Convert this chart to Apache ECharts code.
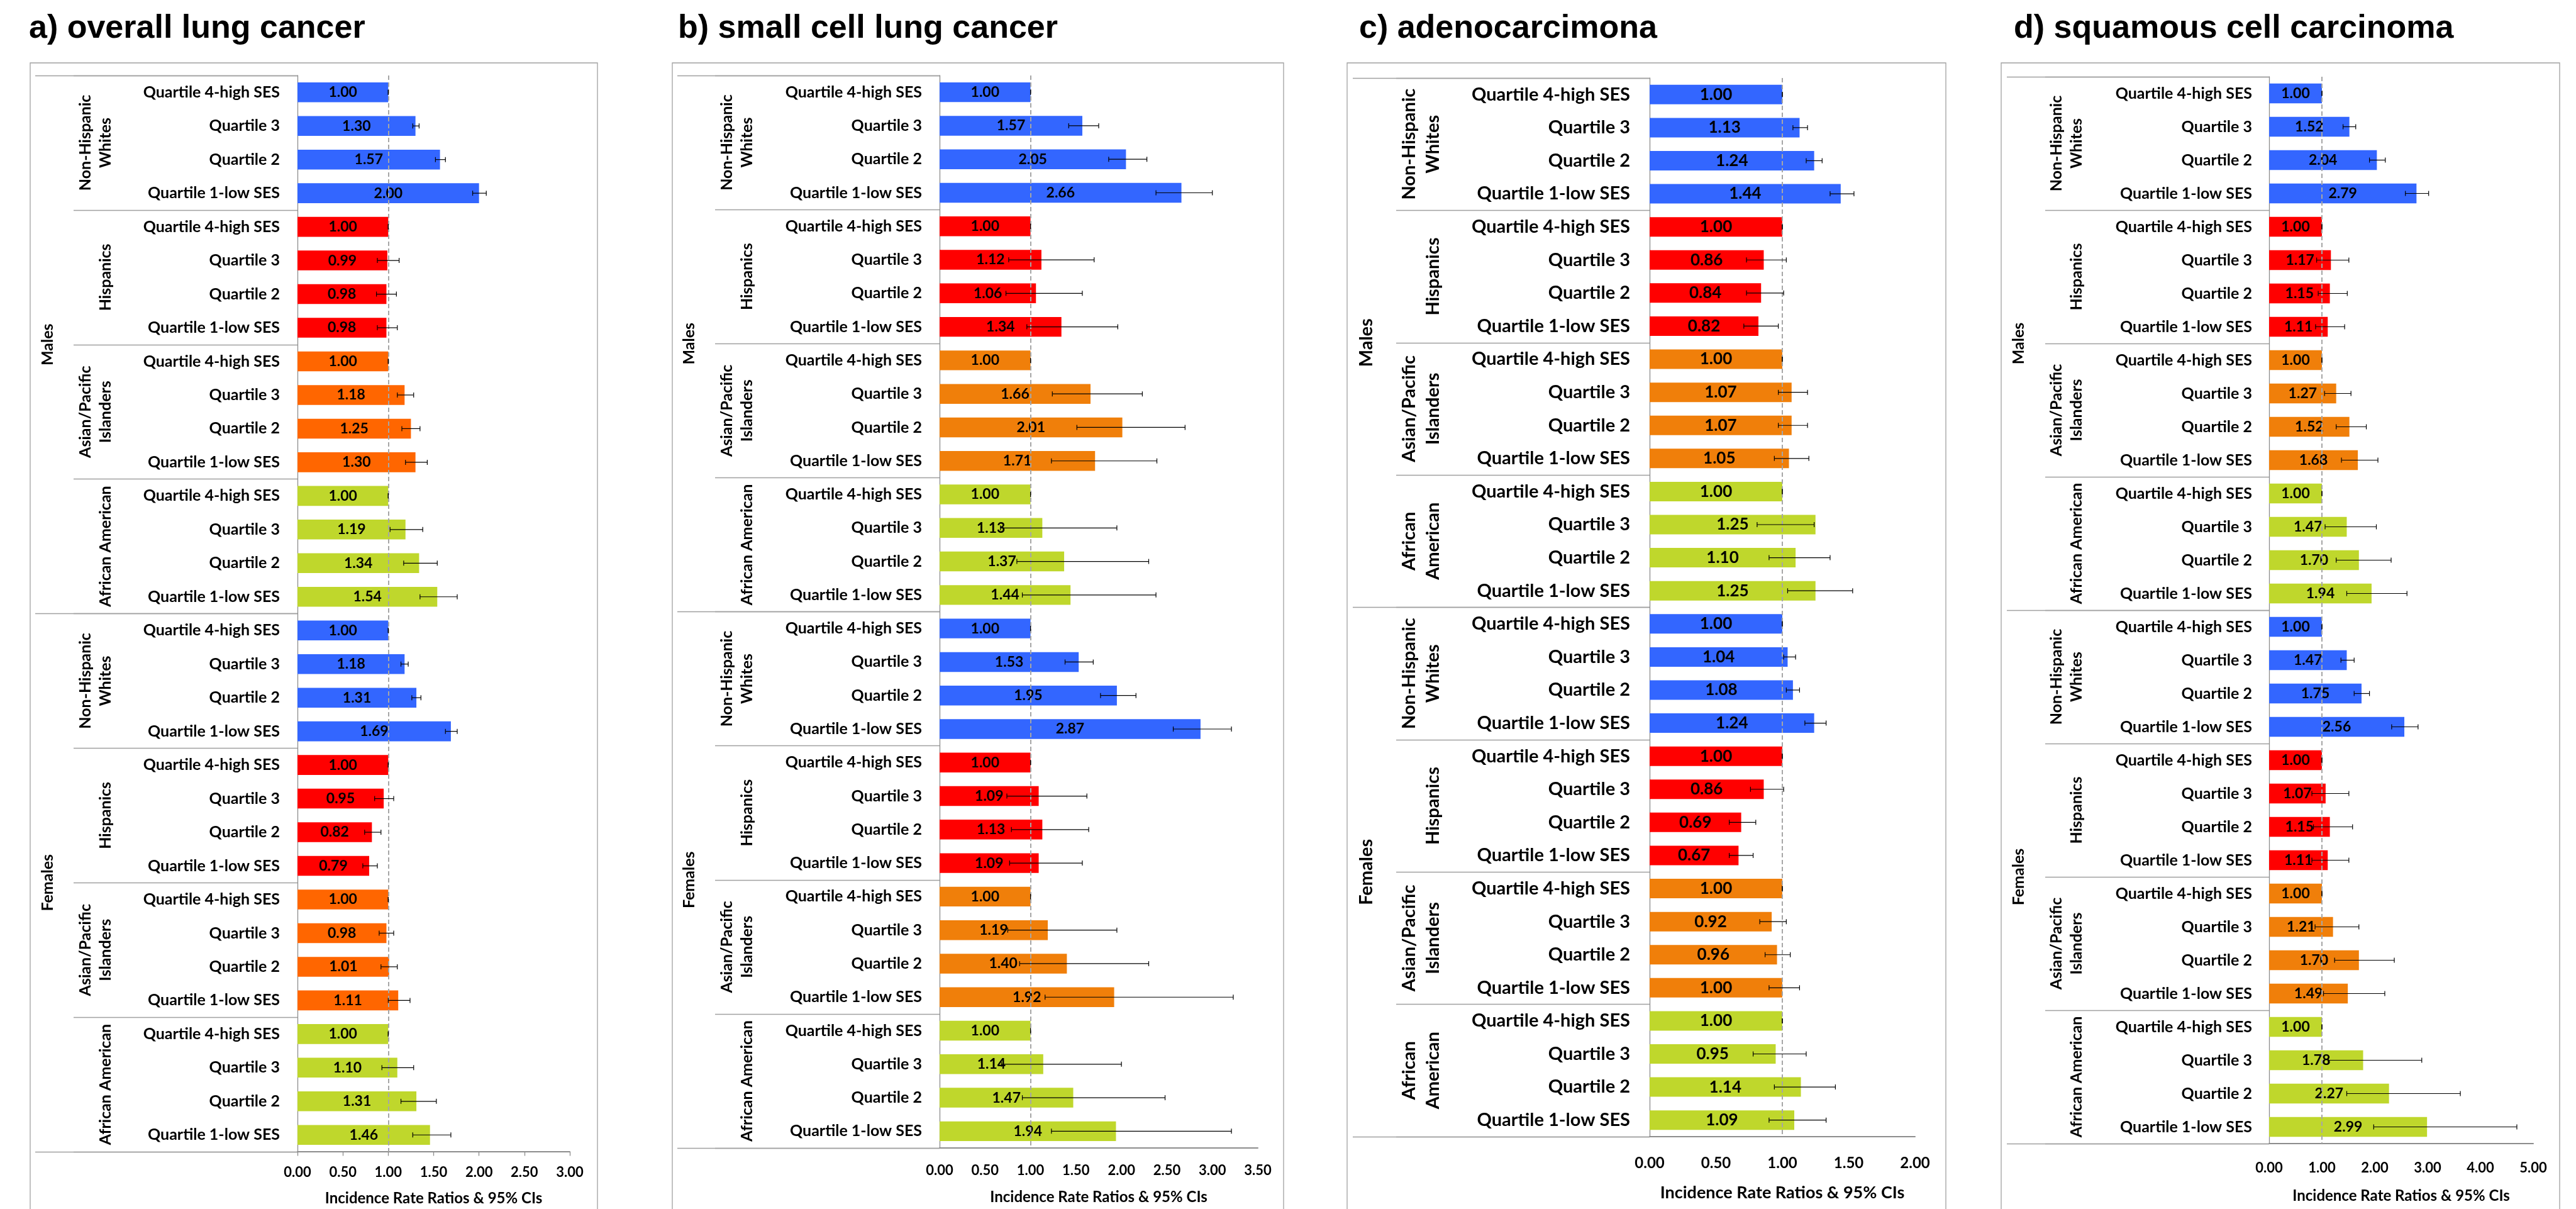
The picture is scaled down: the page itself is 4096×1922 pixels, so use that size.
<!DOCTYPE html>
<html>
<head>
<meta charset="utf-8">
<script src="https://cdn.jsdelivr.net/npm/echarts@6/dist/echarts.min.js"></script>
<style>html,body{margin:0;padding:0;background:#fff;}#c{width:4096px;height:1922px;}</style>
</head>
<body>
<div id="c"></div>
<script>
// ---------- data ----------
const quartiles = ['Quartile 4-high SES', 'Quartile 3', 'Quartile 2', 'Quartile 1-low SES'];
const races = ['Non-Hispanic\nWhites', 'Hispanics', 'Asian/Pacific\nIslanders', 'African American'];
const racesC = ['Non-Hispanic\nWhites', 'Hispanics', 'Asian/Pacific\nIslanders', 'African\nAmerican'];
const sexes = ['Males', 'Females'];
const titles = ['a) overall lung cancer', 'b) small cell lung cancer', 'c) adenocarcimona', 'd) squamous cell carcinoma'];
const axisName = 'Incidence Rate Ratios & 95% CIs';

const irrA = [1.00,1.30,1.57,2.00, 1.00,0.99,0.98,0.98, 1.00,1.18,1.25,1.30, 1.00,1.19,1.34,1.54,
              1.00,1.18,1.31,1.69, 1.00,0.95,0.82,0.79, 1.00,0.98,1.01,1.11, 1.00,1.10,1.31,1.46];
const loA  = [1.00,1.27,1.52,1.93, 1.00,0.88,0.87,0.88, 1.00,1.10,1.15,1.19, 1.00,1.02,1.17,1.35,
              1.00,1.14,1.26,1.63, 1.00,0.85,0.74,0.72, 1.00,0.90,0.92,1.00, 1.00,0.93,1.14,1.27];
const hiA  = [1.00,1.34,1.63,2.08, 1.00,1.12,1.09,1.10, 1.00,1.28,1.35,1.43, 1.00,1.38,1.54,1.76,
              1.00,1.22,1.36,1.76, 1.00,1.06,0.92,0.88, 1.00,1.06,1.10,1.24, 1.00,1.28,1.53,1.69];

const irrB = [1.00,1.57,2.05,2.66, 1.00,1.12,1.06,1.34, 1.00,1.66,2.01,1.71, 1.00,1.13,1.37,1.44,
              1.00,1.53,1.95,2.87, 1.00,1.09,1.13,1.09, 1.00,1.19,1.40,1.92, 1.00,1.14,1.47,1.94];
const loB  = [1.00,1.42,1.86,2.38, 1.00,0.76,0.73,0.96, 1.00,1.24,1.51,1.23, 1.00,0.67,0.85,0.91,
              1.00,1.38,1.77,2.57, 1.00,0.74,0.79,0.77, 1.00,0.75,0.88,1.16, 1.00,0.68,0.91,1.23];
const hiB  = [1.00,1.75,2.28,3.00, 1.00,1.70,1.57,1.96, 1.00,2.23,2.70,2.39, 1.00,1.95,2.30,2.38,
              1.00,1.69,2.16,3.21, 1.00,1.62,1.64,1.57, 1.00,1.95,2.30,3.23, 1.00,2.00,2.48,3.21];

const irrC = [1.00,1.13,1.24,1.44, 1.00,0.86,0.84,0.82, 1.00,1.07,1.07,1.05, 1.00,1.25,1.10,1.25,
              1.00,1.04,1.08,1.24, 1.00,0.86,0.69,0.67, 1.00,0.92,0.96,1.00, 1.00,0.95,1.14,1.09];
const loC  = [1.00,1.08,1.18,1.36, 1.00,0.73,0.73,0.71, 1.00,0.97,0.97,0.94, 1.00,0.81,0.90,1.04,
              1.00,1.01,1.03,1.17, 1.00,0.76,0.60,0.60, 1.00,0.83,0.87,0.90, 1.00,0.78,0.94,0.90];
const hiC  = [1.00,1.19,1.30,1.54, 1.00,1.03,1.01,0.97, 1.00,1.19,1.19,1.20, 1.00,1.24,1.36,1.53,
              1.00,1.10,1.13,1.33, 1.00,1.01,0.80,0.78, 1.00,1.03,1.06,1.13, 1.00,1.18,1.40,1.33];

const irrD = [1.00,1.52,2.04,2.79, 1.00,1.17,1.15,1.11, 1.00,1.27,1.52,1.68, 1.00,1.47,1.70,1.94,
              1.00,1.47,1.75,2.56, 1.00,1.07,1.15,1.11, 1.00,1.21,1.70,1.49, 1.00,1.78,2.27,2.99];
const loD  = [1.00,1.40,1.90,2.58, 1.00,0.90,0.93,0.88, 1.00,1.05,1.27,1.37, 1.00,1.06,1.27,1.47,
              1.00,1.36,1.61,2.32, 1.00,0.81,0.84,0.81, 1.00,0.87,1.24,1.03, 1.00,1.12,1.47,1.98];
const hiD  = [1.00,1.64,2.20,3.02, 1.00,1.51,1.48,1.43, 1.00,1.55,1.84,2.06, 1.00,2.03,2.31,2.61,
              1.00,1.61,1.90,2.82, 1.00,1.51,1.58,1.51, 1.00,1.70,2.37,2.19, 1.00,2.89,3.62,4.69];

const axisMax = [3, 3.5, 2, 5];
const axisInterval = [0.5, 0.5, 0.5, 1];

// ---------- styles / layout ----------
const FONT = 'Lato';
const colorsA = ['#3366FF', '#FF0000', '#FF6600', '#BFD72C'];
const colorsB = ['#3366FF', '#FF0000', '#F07F0A', '#BFD72C'];

const panels = [
  {irr: irrA, lo: loA, hi: hiA, races: races, colors: colorsA, grid: {left: 473, right: 3190, top: 120, bottom: 91},
   titleX: 46, box: [48, 950], catMargin: 28, catFont: 25, raceFont: 25, raceLH: 32, raceMargin: 289, raceTick: 356,
   sexMargin: 385, sexTick: 417, valFont: 23, tickFont: 22, tickMargin: 22, nameGap: 62, nameFont: 24, ticks: true},
  {irr: irrB, lo: loB, hi: hiB, races: races, colors: colorsB, grid: {left: 1494, right: 2096, top: 120, bottom: 97},
   titleX: 1078, box: [1069, 2041], catMargin: 28, catFont: 25, raceFont: 25, raceLH: 32, raceMargin: 290, raceTick: 357,
   sexMargin: 386, sexTick: 417, valFont: 23, tickFont: 22, tickMargin: 25, nameGap: 66, nameFont: 24, ticks: false},
  {irr: irrC, lo: loC, hi: hiC, races: racesC, colors: colorsB, grid: {left: 2623, right: 1051, top: 124, bottom: 115},
   titleX: 2161, box: [2142, 3094], catMargin: 31, catFont: 29, raceFont: 29, raceLH: 38, raceMargin: 325, raceTick: 403,
   sexMargin: 436, sexTick: 472, valFont: 26, tickFont: 24, tickMargin: 30, nameGap: 76, nameFont: 27, ticks: false},
  {irr: irrD, lo: loD, hi: hiD, races: races, colors: colorsB, grid: {left: 3608, right: 68, top: 122, bottom: 104},
   titleX: 3202, box: [3182, 4070], catMargin: 27, catFont: 25, raceFont: 25, raceLH: 32, raceMargin: 290, raceTick: 356,
   sexMargin: 386, sexTick: 417, valFont: 23, tickFont: 22, tickMargin: 28, nameGap: 71, nameFont: 24, ticks: false}
];

const rowIds = [];
sexes.forEach((s, si) => races.forEach((r, ri) => quartiles.forEach((q, qi) => rowIds.push(si + '|' + ri + '|' + qi))));
const groupIds = [];
sexes.forEach((s, si) => races.forEach((r, ri) => groupIds.push(si + '|' + ri)));

const chart = echarts.init(document.getElementById('c'), null, {renderer: 'canvas'});
const grids = [], xAxes = [], yAxes = [], series = [], graphics = [];
const GRAY = '#A0A0A0';

panels.forEach((p, k) => {
  grids.push(Object.assign({containLabel: false}, p.grid));
  xAxes.push({
    gridIndex: k, type: 'value', min: 0, max: axisMax[k], interval: axisInterval[k],
    axisLine: {show: true, lineStyle: {color: '#8C8C8C', width: 2}},
    axisTick: {show: p.ticks, length: 6.5, lineStyle: {color: '#8C8C8C', width: 1.3}},
    splitLine: {show: false},
    axisLabel: {formatter: v => v.toFixed(2), fontFamily: FONT, fontWeight: 'bold', fontSize: p.tickFont, color: '#000', margin: p.tickMargin},
    name: axisName, nameLocation: 'middle', nameGap: p.nameGap,
    nameTextStyle: {fontFamily: FONT, fontWeight: 'bold', fontSize: p.nameFont, color: '#000'}
  });
  // quartile axis
  yAxes.push({
    gridIndex: k, type: 'category', data: rowIds, inverse: true, position: 'left',
    axisLine: {show: true, lineStyle: {color: '#8C8C8C', width: 1.3}},
    axisTick: {show: false},
    axisLabel: {interval: 0, formatter: v => quartiles[+v.split('|')[2]], fontFamily: FONT, fontWeight: 'bold',
      fontSize: p.catFont, color: '#000', margin: p.catMargin}
  });
  // race axis
  yAxes.push({
    gridIndex: k, type: 'category', data: groupIds, inverse: true, position: 'left',
    axisLine: {show: false},
    axisTick: {show: true, interval: 0, length: p.raceTick, lineStyle: {color: GRAY, width: 1.3}},
    axisLabel: {interval: 0, rotate: 90, formatter: v => p.races[+v.split('|')[1]], fontFamily: FONT, fontWeight: 'bold',
      fontSize: p.raceFont, lineHeight: p.raceLH, color: '#000', margin: p.raceMargin}
  });
  // sex axis
  yAxes.push({
    gridIndex: k, type: 'category', data: sexes, inverse: true, position: 'left',
    axisLine: {show: false},
    axisTick: {show: true, interval: 0, length: p.sexTick, lineStyle: {color: GRAY, width: 1.3}},
    axisLabel: {interval: 0, rotate: 90, fontFamily: FONT, fontWeight: 'bold',
      fontSize: p.raceFont, color: '#000', margin: p.sexMargin}
  });

  series.push({
    type: 'bar', xAxisIndex: k, yAxisIndex: 3 * k, barCategoryGap: '41%',
    data: p.irr.map((v, i) => ({value: v, itemStyle: {color: p.colors[Math.floor(i / 4) % 4]}})),
    label: {show: true, position: 'inside', formatter: d => d.value.toFixed(2), fontFamily: FONT, fontWeight: 'bold',
      fontSize: p.valFont, color: '#000'},
    markLine: {silent: true, symbol: ['none', 'none'], label: {show: false},
      lineStyle: {color: '#A6A6A6', type: [7, 4], width: 2}, data: [{xAxis: 1}]},
    z: 2
  });
  series.push({
    type: 'custom', xAxisIndex: k, yAxisIndex: 3 * k, z: 5,
    data: p.lo.map((v, i) => [v, p.hi[i], i]),
    encode: {x: [0, 1], y: 2},
    renderItem: (params, api) => {
      const y = api.value(2);
      const a = api.coord([api.value(0), y]);
      const b = api.coord([api.value(1), y]);
      const h = 4;
      const st = {stroke: '#000', lineWidth: 1.2};
      return {type: 'group', children: [
        {type: 'line', shape: {x1: a[0], y1: a[1], x2: b[0], y2: b[1]}, style: st},
        {type: 'line', shape: {x1: a[0], y1: a[1] - h, x2: a[0], y2: a[1] + h}, style: st},
        {type: 'line', shape: {x1: b[0], y1: b[1] - h, x2: b[0], y2: b[1] + h}, style: st}
      ]};
    }
  });

  graphics.push({type: 'text', left: p.titleX, top: 20, style: {text: titles[k], fontFamily: 'Liberation Sans, Arial', fontWeight: 'bold', fontSize: 52, fill: '#000'}});
  graphics.push({type: 'rect', shape: {x: p.box[0], y: 100, width: p.box[1] - p.box[0], height: 1900},
    style: {fill: 'none', stroke: GRAY, lineWidth: 1.3}, z: -1});
});

chart.setOption({
  animation: false,
  backgroundColor: '#fff',
  grid: grids, xAxis: xAxes, yAxis: yAxes, series: series, graphic: graphics
});
</script>
</body>
</html>
